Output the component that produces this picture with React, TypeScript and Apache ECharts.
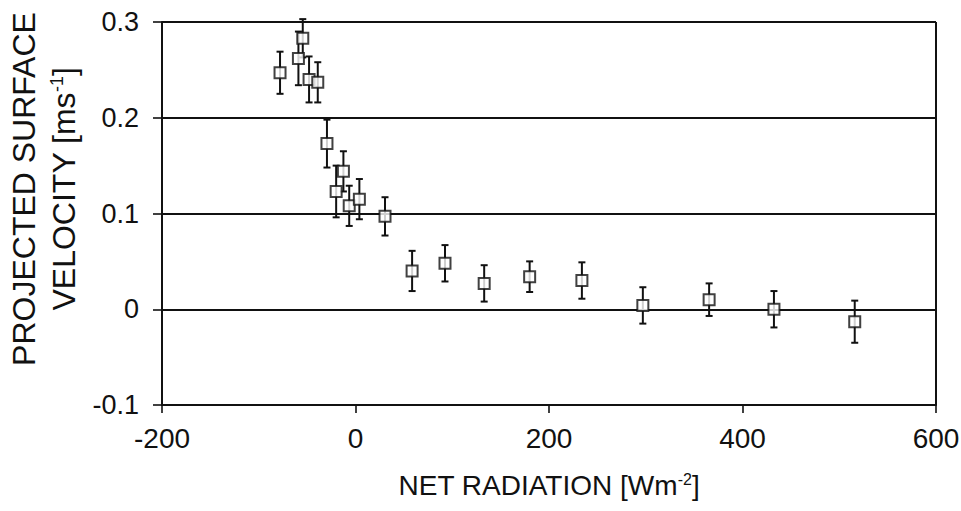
import React, { useEffect, useRef } from "react";
import * as echarts from "echarts";

const netRadiation = [-78, -59, -54.5, -48, -39, -29.5, -20, -12.5, -6.5, 4, 30.5, 58.5, 92.5, 133, 180, 234, 297, 365.5, 432.5, 516];
const velocity = [0.247, 0.262, 0.283, 0.24, 0.237, 0.173, 0.123, 0.144, 0.108, 0.115, 0.097, 0.04, 0.048, 0.027, 0.034, 0.03, 0.004, 0.01, 0.0, -0.013];
const velocityErr = [0.022, 0.028, 0.02, 0.024, 0.021, 0.025, 0.027, 0.021, 0.021, 0.021, 0.02, 0.021, 0.019, 0.019, 0.016, 0.019, 0.019, 0.017, 0.019, 0.022];

const xTickLabels = ["-200", "0", "200", "400", "600"];
const yTickLabels = ["-0.1", "0", "0.1", "0.2", "0.3"];

const FONT = "'Liberation Sans', Arial, Helvetica, sans-serif";
const INK = "#111";

export default function App() {
  const ref = useRef<HTMLDivElement>(null);

  useEffect(() => {
    if (!ref.current) return;
    const chart = echarts.init(ref.current, undefined, { renderer: "svg" });

    const points = netRadiation.map((x, i) => [x, velocity[i]]);
    const errData = netRadiation.map((x, i) => [x, velocity[i], velocityErr[i]]);

    const option: any = {
      animation: false,
      backgroundColor: "#fff",
      grid: {
        left: 162,
        right: 25,
        top: 22,
        bottom: 106,
        containLabel: false,
        outerBoundsMode: "none",
      },
      xAxis: {
        type: "value",
        min: -200,
        max: 600,
        interval: 200,
        name: "NET RADIATION [Wm{sup|-2}]",
        nameLocation: "middle",
        nameGap: 66,
        nameTextStyle: {
          fontFamily: FONT,
          fontSize: 28,
          color: INK,
          rich: {
            sup: { fontFamily: FONT, fontSize: 16, color: INK, verticalAlign: "bottom", padding: [0, 0, 13, 0] },
          },
        },
        axisLine: { show: true, onZero: false, lineStyle: { color: INK, width: 2 } },
        axisTick: { show: true, inside: false, length: 8, lineStyle: { color: INK, width: 1.6 } },
        axisLabel: {
          fontFamily: FONT,
          fontSize: 28,
          color: INK,
          margin: 19,
          formatter: (_v: number, i: number) => xTickLabels[i],
        },
        splitLine: { show: false },
      },
      yAxis: {
        type: "value",
        min: -0.1,
        max: 0.3,
        interval: 0.1,
        axisLine: { show: true, onZero: false, lineStyle: { color: INK, width: 2 } },
        axisTick: { show: true, inside: false, length: 9, lineStyle: { color: INK, width: 1.6 } },
        axisLabel: {
          fontFamily: FONT,
          fontSize: 27,
          color: INK,
          margin: 23,
          formatter: (_v: number, i: number) => yTickLabels[i],
        },
        splitLine: { show: true, lineStyle: { color: INK, width: 2 } },
      },
      graphic: [
        {
          type: "text",
          x: 24,
          y: 189,
          rotation: Math.PI / 2,
          style: {
            text: "PROJECTED SURFACE",
            fontFamily: FONT,
            fontSize: 32,
            fill: INK,
            textAlign: "center",
            textVerticalAlign: "middle",
          },
        },
        {
          type: "text",
          x: 64,
          y: 189,
          rotation: Math.PI / 2,
          style: {
            text: "VELOCITY [ms{sup|-1}]",
            fontFamily: FONT,
            fontSize: 32,
            fill: INK,
            textAlign: "center",
            textVerticalAlign: "middle",
            rich: {
              sup: { fontFamily: FONT, fontSize: 18, fill: INK, verticalAlign: "bottom", padding: [0, 0, 15, 0] },
            },
          },
        },
      ],
      series: [
        {
          type: "custom",
          z: 2,
          data: errData,
          renderItem: (_params: any, api: any) => {
            const x = api.value(0);
            const y = api.value(1);
            const e = api.value(2);
            const top = api.coord([x, y + e]);
            const bot = api.coord([x, y - e]);
            const cap = 3.5;
            const st = { stroke: INK, lineWidth: 2 };
            return {
              type: "group",
              children: [
                { type: "line", shape: { x1: top[0], y1: top[1], x2: bot[0], y2: bot[1] }, style: st },
                { type: "line", shape: { x1: top[0] - cap, y1: top[1], x2: top[0] + cap, y2: top[1] }, style: st },
                { type: "line", shape: { x1: bot[0] - cap, y1: bot[1], x2: bot[0] + cap, y2: bot[1] }, style: st },
              ],
            };
          },
        },
        {
          type: "scatter",
          z: 3,
          data: points,
          symbol: "rect",
          symbolSize: 11,
          itemStyle: { color: "#fff", borderColor: INK, borderWidth: 2 },
          markLine: {
            silent: true,
            symbol: ["none", "none"],
            label: { show: false },
            lineStyle: { color: INK, width: 2, type: "solid" },
            data: [{ xAxis: 600 }],
          },
        },
      ],
    };

    chart.setOption(option);
    return () => chart.dispose();
  }, []);

  return (
    <div
      ref={ref}
      style={{ position: "fixed", left: 0, top: 0, width: 961, height: 511, background: "#fff" }}
    />
  );
}
